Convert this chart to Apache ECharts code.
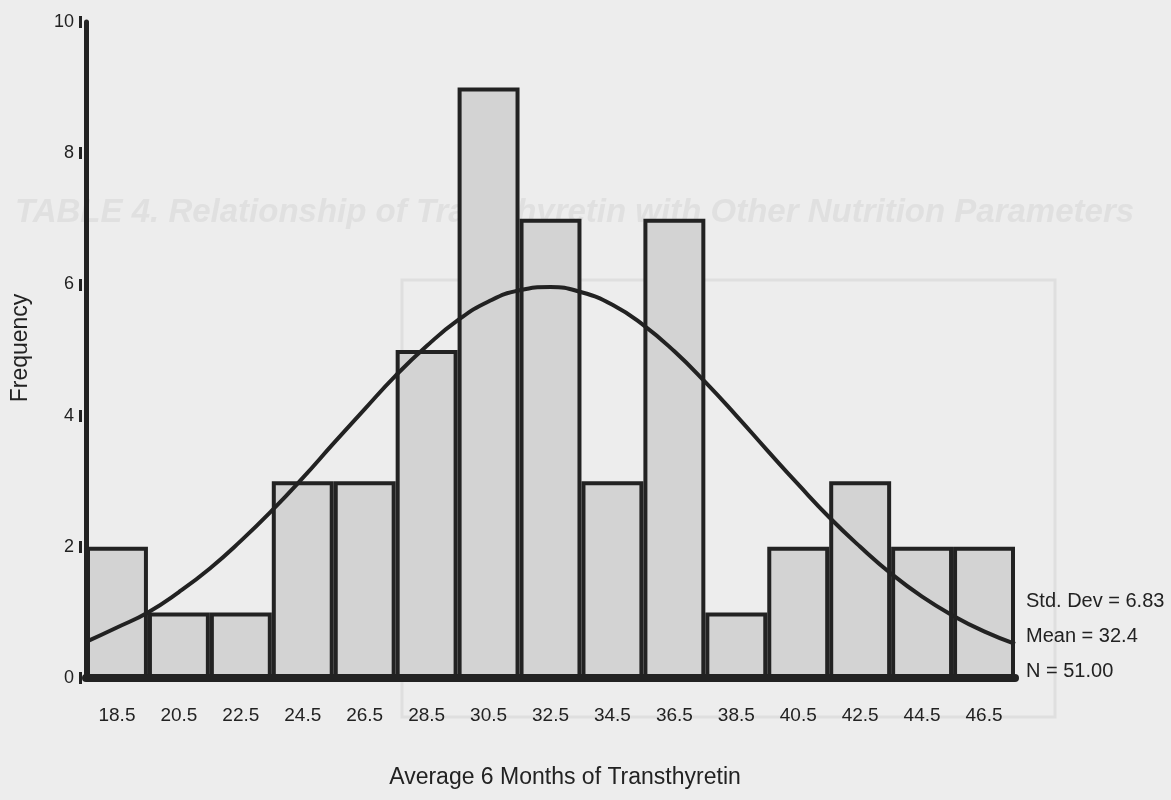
<!DOCTYPE html>
<html>
<head>
<meta charset="utf-8">
<script src="https://cdn.jsdelivr.net/npm/echarts@6/dist/echarts.min.js"></script>
<style>
html,body{margin:0;padding:0;background:#ededed;}
#chart{width:1171px;height:800px;}
</style>
</head>
<body>
<div id="chart"></div>
<script>
// Histogram bins (midpoints) and frequencies
var categories = ['18.5','20.5','22.5','24.5','26.5','28.5','30.5','32.5','34.5','36.5','38.5','40.5','42.5','44.5','46.5'];
var frequencies = [2,1,1,3,3,5,9,7,3,7,1,2,3,2,2];
// Fitted normal curve at each unit step
var curveX = [17.5,18.5,19.5,20.5,21.5,22.5,23.5,24.5,25.5,26.5,27.5,28.5,29.5,30.5,31.5,32.5,33.5,34.5,35.5,36.5,37.5,38.5,39.5,40.5,41.5,42.5,43.5,44.5,45.5,46.5,47.5];
var curveY = [0.55,0.77,1.0,1.31,1.67,2.09,2.55,3.05,3.58,4.1,4.61,5.06,5.45,5.74,5.91,5.96,5.88,5.69,5.38,4.98,4.51,4.0,3.47,2.95,2.45,2.0,1.59,1.24,0.95,0.71,0.52];
var yTicks = [0,2,4,6,8,10];
var statsText = ['Std. Dev = 6.83','Mean = 32.4','N = 51.00'];
var xTitle = 'Average 6 Months of Transthyretin';
var yTitle = 'Frequency';
var ghostTitle = 'TABLE 4. Relationship of Transthyretin with Other Nutrition Parameters';

var curveData = curveX.map(function(x,i){return [x, curveY[i]];});
var font = '"Liberation Sans", Arial, sans-serif';
var ink = '#222222';

var chart = echarts.init(document.getElementById('chart'));
chart.setOption({
  backgroundColor: '#ededed',
  animation: false,
  graphic: [
    {type:'text', left: 15, top: 196, z: -10, silent: true,
     style:{text: ghostTitle, font: 'italic bold 33px ' + font, fill:'#e0e0e0'}},
    {type:'rect', shape:{x:402, y:280, width:653, height:437}, z:-10, silent:true,
     style:{fill:'none', stroke:'#dfdfdf', lineWidth:3}},
    {type:'text', x: 565, y: 778, style:{text: xTitle, font: '23px ' + font, fill: ink, align:'center', verticalAlign:'middle'}},
    {type:'text', x: 21, y: 348, rotation: Math.PI/2, style:{text: yTitle, font: '23px ' + font, fill: ink, align:'center', verticalAlign:'middle'}},
    {type:'text', x: 1026, y: 601, style:{text: statsText[0], font: '20px ' + font, fill: ink, verticalAlign:'middle'}},
    {type:'text', x: 1026, y: 636, style:{text: statsText[1], font: '20px ' + font, fill: ink, verticalAlign:'middle'}},
    {type:'text', x: 1026, y: 671, style:{text: statsText[2], font: '20px ' + font, fill: ink, verticalAlign:'middle'}}
  ],
  grid: {left: 86, right: 156, top: 22, bottom: 122, containLabel: false},
  xAxis: [
    {type:'category', data: categories, boundaryGap: true,
     axisLine:{show:true, lineStyle:{color: ink, width: 8}},
     axisTick:{show:false},
     axisLabel:{color: ink, fontSize: 19, fontFamily: font, margin: 28},
     splitLine:{show:false}, z: 5},
    {type:'value', min: 17.5, max: 47.5, show: false}
  ],
  yAxis: [
    {type:'value', min: 0, max: 10, interval: 2,
     axisLine:{show:true, onZero:false, lineStyle:{color: ink, width: 5}},
     axisTick:{show:false}, axisLabel:{show:false}, splitLine:{show:false}, z: 5},
    {type:'value', min: 0, max: 10, interval: 2, position:'left', offset: 4,
     axisLine:{show:false},
     axisTick:{show:true, length: 3, lineStyle:{color: ink, width: 12}},
     axisLabel:{color: ink, fontSize: 18, fontFamily: font, margin: 8,
       formatter: function(v){ return yTicks.indexOf(v) >= 0 ? String(v) : ''; }},
     splitLine:{show:false}}
  ],
  series: [
    {type:'bar', xAxisIndex:0, yAxisIndex:0, data: frequencies, barCategoryGap:'0%',
     itemStyle:{color:'#d3d3d3', borderColor: ink, borderWidth: 4}, z: 2},
    {type:'line', xAxisIndex:1, yAxisIndex:0, data: curveData, smooth: true, symbol:'none',
     lineStyle:{color: ink, width: 4}, z: 3}
  ]
});
</script>
</body>
</html>
